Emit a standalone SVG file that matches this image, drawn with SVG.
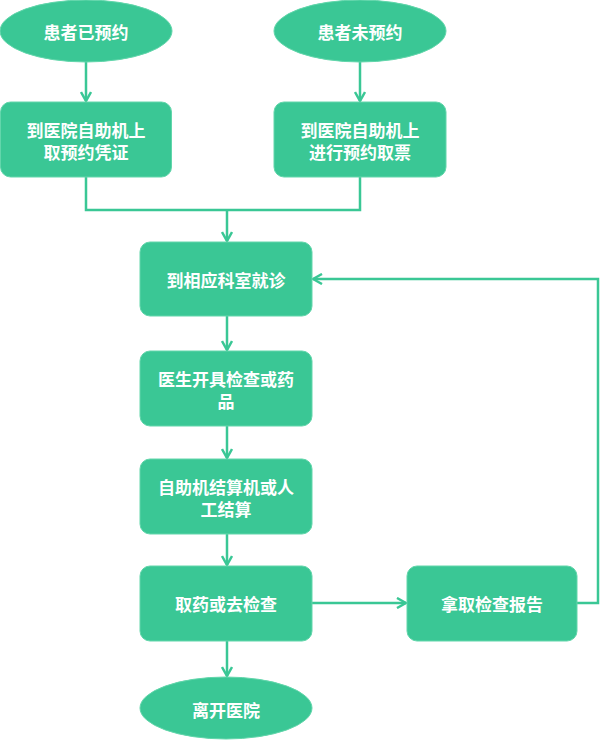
<svg xmlns="http://www.w3.org/2000/svg" width="600" height="740" viewBox="0 0 600 740">
<style>
.n{fill:#3ac795;stroke:#62d6ab;stroke-width:1}
.t{fill:#ffffff;font-family:"Noto Sans CJK SC","Noto Sans",sans-serif;font-weight:bold;font-size:17px;text-anchor:middle;dominant-baseline:central}
.c{fill:none;stroke:#3ac795;stroke-width:2.5}
</style>
<defs>
<marker id="a" viewBox="0 0 12 12" refX="11" refY="6" markerWidth="12" markerHeight="12" markerUnits="userSpaceOnUse" orient="auto">
<path d="M2,1 L11,6 L2,11" fill="none" stroke="#3ac795" stroke-width="2.5"/>
</marker>
</defs>
<rect width="600" height="740" fill="#ffffff"/>
<g id="connectors">
<line class="c" x1="86" y1="62" x2="86" y2="101" marker-end="url(#a)"/>
<line class="c" x1="360" y1="62" x2="360" y2="101" marker-end="url(#a)"/>
<polyline class="c" points="86,177 86,210 360,210 360,177"/>
<line class="c" x1="227" y1="210" x2="227" y2="241" marker-end="url(#a)"/>
<line class="c" x1="227" y1="316" x2="227" y2="350" marker-end="url(#a)"/>
<line class="c" x1="227" y1="426" x2="227" y2="458" marker-end="url(#a)"/>
<line class="c" x1="227" y1="534" x2="227" y2="565" marker-end="url(#a)"/>
<line class="c" x1="227" y1="641" x2="227" y2="676" marker-end="url(#a)"/>
<line class="c" x1="312" y1="603" x2="406" y2="603" marker-end="url(#a)"/>
<polyline class="c" points="577,603 598,603 598,279 313,279" marker-end="url(#a)"/>
</g>
<g id="n1"><ellipse class="n" cx="86" cy="31" rx="86" ry="31"/><text class="t" x="86" y="31">患者已预约</text></g>
<g id="n2"><ellipse class="n" cx="360" cy="31" rx="86" ry="31"/><text class="t" x="360" y="31">患者未预约</text></g>
<g id="n3"><rect class="n" x="0.5" y="102" width="171" height="75" rx="10"/><text class="t" x="86" y="129">到医院自助机上</text><text class="t" x="86" y="151">取预约凭证</text></g>
<g id="n4"><rect class="n" x="274" y="102" width="172" height="75" rx="10"/><text class="t" x="360" y="129">到医院自助机上</text><text class="t" x="360" y="151">进行预约取票</text></g>
<g id="n5"><rect class="n" x="140" y="242" width="172" height="74" rx="10"/><text class="t" x="226" y="279">到相应科室就诊</text></g>
<g id="n6"><rect class="n" x="140" y="351" width="172" height="75" rx="10"/><text class="t" x="226" y="378">医生开具检查或药</text><text class="t" x="226" y="400">品</text></g>
<g id="n7"><rect class="n" x="140" y="459" width="172" height="75" rx="10"/><text class="t" x="226" y="486">自助机结算机或人</text><text class="t" x="226" y="508">工结算</text></g>
<g id="n8"><rect class="n" x="140" y="566" width="172" height="75" rx="10"/><text class="t" x="226" y="603">取药或去检查</text></g>
<g id="n9"><rect class="n" x="407" y="566" width="170" height="75" rx="10"/><text class="t" x="492" y="603">拿取检查报告</text></g>
<g id="n10"><ellipse class="n" cx="226" cy="708" rx="86" ry="31"/><text class="t" x="226" y="709">离开医院</text></g>
</svg>
